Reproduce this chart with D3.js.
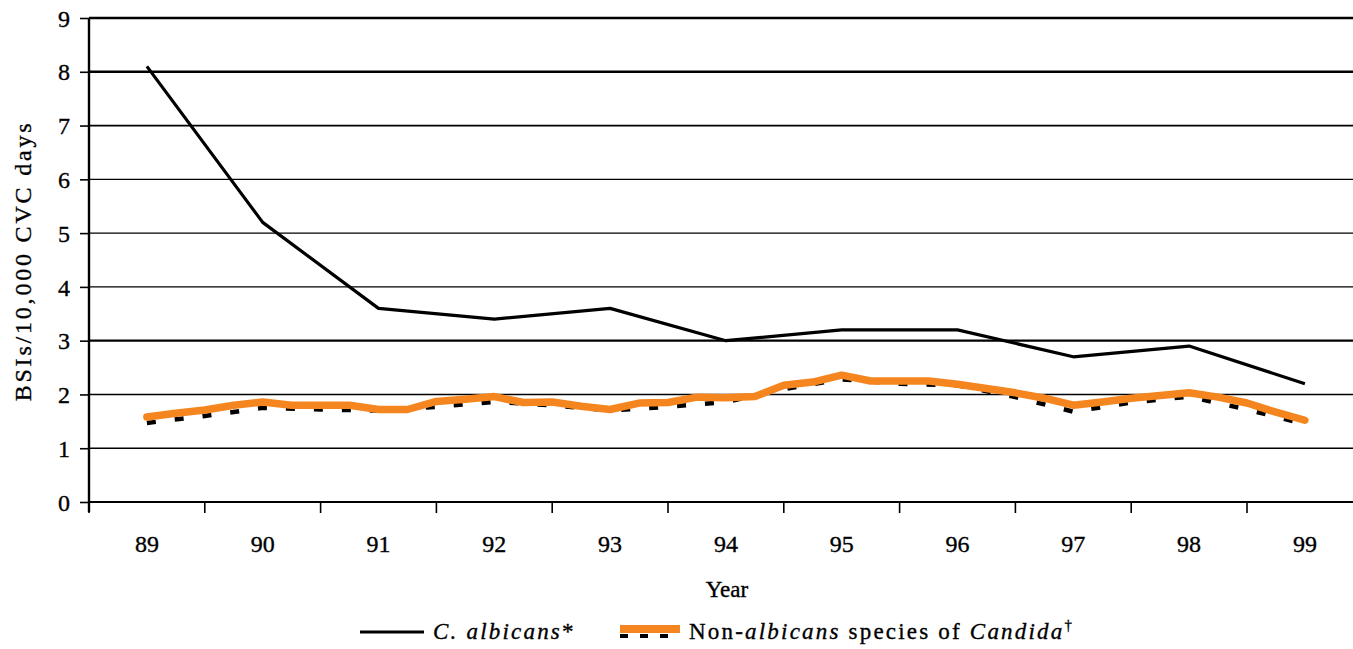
<!DOCTYPE html>
<html>
<head>
<meta charset="utf-8">
<script src="https://cdn.jsdelivr.net/npm/d3@7"></script>
<style>
  html, body { margin: 0; padding: 0; background: #fff; }
  svg { display: block; }
  svg text {
    font-family: "Liberation Serif", "Times New Roman", Times, "DejaVu Serif", serif;
    fill: #000; stroke: #000; stroke-width: 0.35px;
  }
</style>
</head>
<body>
<svg id="chart" width="1353" height="649"></svg>
<script>
// Year categories on the x axis
const years = ["89", "90", "91", "92", "93", "94", "95", "96", "97", "98", "99"];
// y-axis ticks
const yTicks = [0, 1, 2, 3, 4, 5, 6, 7, 8, 9];

// C. albicans BSIs per 10,000 CVC days, one value per year
const albicans = [8.1, 5.2, 3.6, 3.4, 3.6, 3.0, 3.2, 3.2, 2.7, 2.9, 2.2];

// Non-albicans species, half-year time points (dashed series)
const halfYears = [89, 89.5, 90, 90.5, 91, 91.5, 92, 92.5, 93, 93.5, 94, 94.5, 95, 95.5, 96, 96.5, 97, 97.5, 98, 98.5, 99];
const nonAlbicansDashed = [1.47, 1.60, 1.75, 1.72, 1.70, 1.77, 1.86, 1.80, 1.70, 1.77, 1.86, 2.10, 2.28, 2.20, 2.17, 1.95, 1.68, 1.85, 1.96, 1.72, 1.45];

// Non-albicans species, quarter-year trace (orange series)
const quarterYears = [89, 89.25, 89.5, 89.75, 90, 90.25, 90.5, 90.75, 91, 91.25, 91.5, 91.75,
  92, 92.25, 92.5, 92.75, 93, 93.25, 93.5, 93.75, 94, 94.25, 94.5, 94.75,
  95, 95.25, 95.5, 95.75, 96, 96.25, 96.5, 96.75, 97, 97.25, 97.5, 97.75,
  98, 98.25, 98.5, 98.75, 99];
const nonAlbicansOrange = [1.58, 1.65, 1.71, 1.80, 1.86, 1.80, 1.80, 1.80, 1.72, 1.72, 1.87, 1.91,
  1.96, 1.85, 1.86, 1.78, 1.72, 1.84, 1.85, 1.95, 1.94, 1.96, 2.17, 2.23,
  2.36, 2.25, 2.25, 2.25, 2.19, 2.11, 2.03, 1.93, 1.80, 1.86, 1.93, 1.98,
  2.03, 1.95, 1.84, 1.67, 1.52];

const svg = d3.select("#chart");
const plotLeft = 89, plotTop = 18, plotBottom = 502, bandW = 115.8;
const plotRight = plotLeft + years.length * bandW;

const x = d3.scaleBand().domain(years).range([plotLeft, plotRight]).padding(0);
const xNum = d3.scaleLinear().domain([88.5, 99.5]).range([plotLeft, plotRight]);
const y = d3.scaleLinear().domain([0, 9]).range([plotBottom, plotTop]);

// Horizontal gridlines
const gridWidth = {9: 2.6, 8: 2.6, 7: 1.8, 3: 2.4, 0: 2.0};
svg.append("g").selectAll("line").data(yTicks).join("line")
  .attr("x1", plotLeft).attr("x2", 1353)
  .attr("y1", d => y(d)).attr("y2", d => y(d))
  .attr("stroke", "#000")
  .attr("stroke-width", d => gridWidth[d] || 1.4);

// Y axis
const yAxis = d3.axisLeft(y).tickValues(yTicks).tickSize(9).tickPadding(10).tickFormat(d3.format("d"));
const gy = svg.append("g").attr("transform", `translate(${plotLeft},0)`).call(yAxis);
gy.attr("font-family", null).attr("font-size", null);
gy.select(".domain").attr("stroke-width", 2.4).attr("d", `M0,${plotTop}V${plotBottom + 10}`);
gy.selectAll(".tick line").attr("stroke-width", 1.6);
gy.selectAll(".tick text").attr("font-size", 24).attr("dy", "0.34em");

// X axis: ticks at category boundaries, labels centred in each band
const gx = svg.append("g").attr("transform", `translate(0,${plotBottom})`);
gx.selectAll("line").data(d3.range(years.length + 1)).join("line")
  .attr("x1", i => plotLeft + i * bandW).attr("x2", i => plotLeft + i * bandW)
  .attr("y1", 0).attr("y2", 11)
  .attr("stroke", "#000").attr("stroke-width", 1.6);
gx.selectAll("text").data(years).join("text")
  .attr("x", d => x(d) + x.bandwidth() / 2)
  .attr("y", 50)
  .attr("text-anchor", "middle")
  .attr("font-size", 24)
  .text(d => d);

// Axis titles
svg.append("text").attr("x", 727).attr("y", 597).attr("text-anchor", "middle")
  .attr("font-size", 23).text("Year");
svg.append("text")
  .attr("transform", `translate(31,261) rotate(-90)`)
  .attr("text-anchor", "middle").attr("font-size", 24)
  .attr("letter-spacing", 2.8)
  .text("BSIs/10,000 CVC days");

// Series lines
const albLine = d3.line().x((d, i) => x(years[i]) + x.bandwidth() / 2).y(d => y(d));
const halfLine = d3.line().x((d, i) => xNum(halfYears[i])).y(d => y(d));
const quarterLine = d3.line().x((d, i) => xNum(quarterYears[i])).y(d => y(d));

svg.append("path").datum(nonAlbicansDashed)
  .attr("d", halfLine).attr("fill", "none")
  .attr("stroke", "#000").attr("stroke-width", 4.5)
  .attr("stroke-dasharray", "9,19");

svg.append("path").datum(nonAlbicansOrange)
  .attr("d", quarterLine).attr("fill", "none")
  .attr("stroke", "#F5861F").attr("stroke-width", 7.5)
  .attr("stroke-linejoin", "round").attr("stroke-linecap", "round");

svg.append("path").datum(albicans)
  .attr("d", albLine).attr("fill", "none")
  .attr("stroke", "#000").attr("stroke-width", 3.2)
  .attr("stroke-linejoin", "round");

// Legend
const lg = svg.append("g").attr("font-size", 23).attr("letter-spacing", 2.2);
lg.append("line").attr("x1", 360).attr("x2", 424).attr("y1", 632).attr("y2", 632)
  .attr("stroke", "#000").attr("stroke-width", 3.2);
const t1 = lg.append("text").attr("x", 433).attr("y", 639);
t1.append("tspan").attr("font-style", "italic").text("C. albicans");
t1.append("tspan").text("*");

lg.append("line").attr("x1", 620).attr("x2", 680).attr("y1", 636).attr("y2", 636)
  .attr("stroke", "#000").attr("stroke-width", 4).attr("stroke-dasharray", "8,12");
lg.append("rect").attr("x", 620).attr("y", 625).attr("width", 60).attr("height", 8).attr("fill", "#F5861F");
const t2 = lg.append("text").attr("x", 689).attr("y", 639);
t2.append("tspan").text("Non-");
t2.append("tspan").attr("font-style", "italic").text("albicans");
t2.append("tspan").text(" species of ");
t2.append("tspan").attr("font-style", "italic").text("Candida");
t2.append("tspan").attr("font-size", 15).attr("dy", -9).text("†");
</script>
</body>
</html>
